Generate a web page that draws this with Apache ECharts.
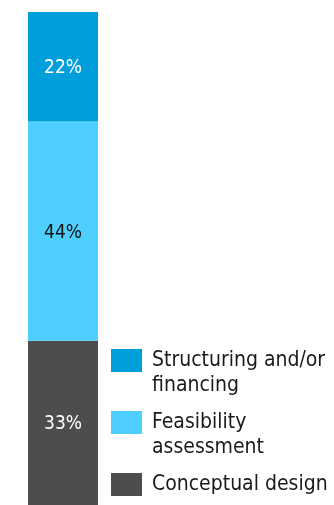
<!DOCTYPE html>
<html>
<head>
<meta charset="utf-8">
<script src="https://cdn.jsdelivr.net/npm/echarts@6/dist/echarts.min.js"></script>
<style>
  html, body { margin: 0; padding: 0; background: #ffffff; }
  #chart { width: 334px; height: 505px; }
</style>
</head>
<body>
<div id="chart"></div>
<script>
// Share of work by project stage (percent), stacked bottom to top
const categories = ['Stage'];
const seriesNames = ['Conceptual design', 'Feasibility assessment', 'Structuring and/or financing'];
const seriesValues = [33, 44, 22];
const seriesColors = ['#4d4d4d', '#4dcfff', '#009fdb'];
const labelColors = ['#ffffff', '#111111', '#ffffff'];
// Legend entries, top to bottom, with their wrapped lines
const legendOrder = ['Structuring and/or financing', 'Feasibility assessment', 'Conceptual design'];
const legendLines = [['Structuring and/or', 'financing'], ['Feasibility', 'assessment'], ['Conceptual design']];
const legendTops = [323, 385, 472];

const FONT = '"DejaVu Sans Condensed", "DejaVu Sans", sans-serif';

const chart = echarts.init(document.getElementById('chart'), null, { renderer: 'canvas' });

const series = seriesNames.map((name, i) => ({
  name: name,
  type: 'bar',
  stack: 'total',
  barWidth: '100%',
  itemStyle: { color: seriesColors[i] },
  label: {
    show: true,
    position: 'inside',
    offset: [0, 1.5],
    color: labelColors[i],
    fontFamily: FONT,
    fontSize: 19,
    formatter: p => p.value + '%'
  },
  emphasis: { disabled: true },
  data: [seriesValues[i]]
}));

// Legend text is centred on its swatch; a blank leading line keeps the
// first line of a wrapped entry level with the swatch.
function legendLabel(lines) {
  return lines.length > 1 ? [' '].concat(lines).join('\n') : lines[0];
}

const legends = legendOrder.map((name, i) => ({
  data: [{ name: name, itemStyle: { color: seriesColors[seriesNames.indexOf(name)] } }],
  orient: 'vertical',
  left: 111,
  top: legendTops[i],
  padding: 0,
  itemWidth: 31,
  itemHeight: 23,
  icon: 'rect',
  selectedMode: false,
  formatter: () => legendLabel(legendLines[i]),
  textStyle: {
    fontFamily: FONT,
    fontSize: 21,
    lineHeight: 25,
    color: '#1a1a1a',
    padding: [0, 0, 0, 5]
  }
}));

chart.setOption({
  animation: false,
  grid: { left: 28, right: 236, top: 12, bottom: 0, containLabel: false },
  xAxis: {
    type: 'category',
    data: categories,
    show: false
  },
  yAxis: {
    type: 'value',
    min: 0,
    max: 99,
    show: false,
    splitLine: { show: false }
  },
  legend: legends,
  series: series
});
</script>
</body>
</html>
